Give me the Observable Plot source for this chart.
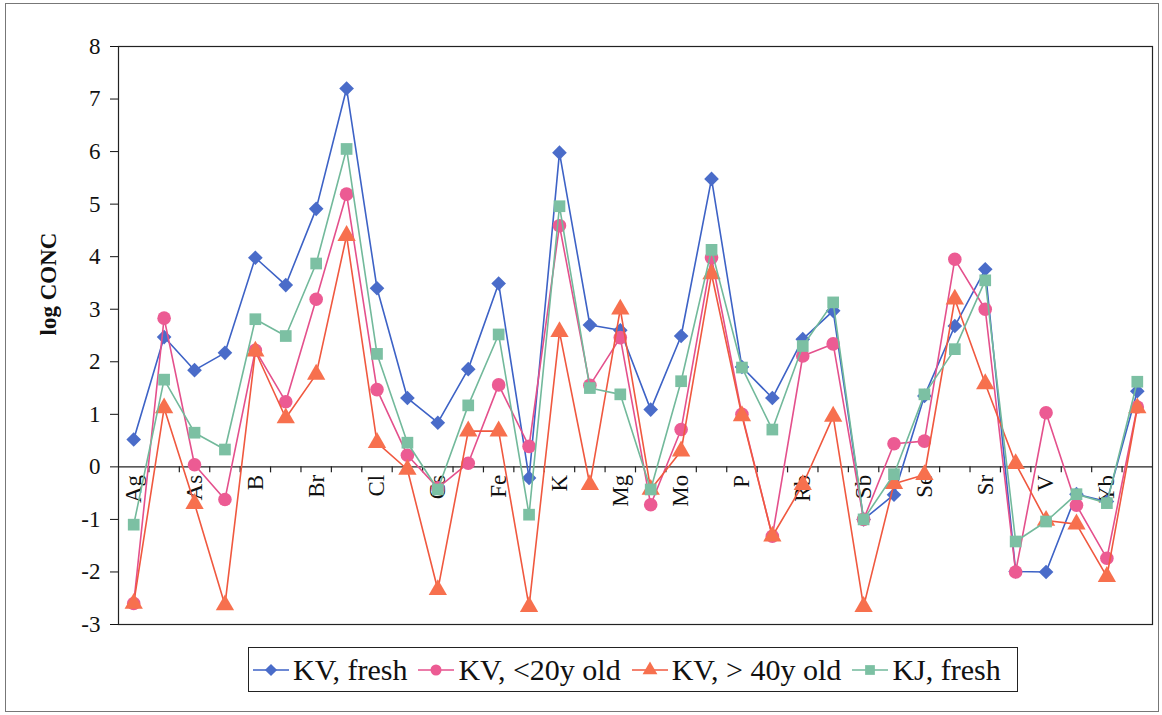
<!DOCTYPE html>
<html><head><meta charset="utf-8">
<script src="https://cdn.jsdelivr.net/npm/d3@7"></script>
<script src="https://cdn.jsdelivr.net/npm/@observablehq/plot@0.6"></script>
<style>
body{margin:0;background:#fff;font-family:"Liberation Serif","Times New Roman",serif;}
#wrap{position:relative;width:1162px;height:715px;overflow:hidden;background:#fff}
#border{position:absolute;left:5px;top:3px;width:1152px;height:707px;border:1px solid #777;pointer-events:none}
#chart{position:absolute;left:0;top:0}
#legend{position:absolute;left:248px;top:647px;width:770px;height:45px;border:1.5px solid #222;display:flex;align-items:center;box-sizing:border-box;padding-left:4px}
.item{display:flex;align-items:center;margin-right:11px;font-size:30px;color:#111;white-space:nowrap}
.item svg{margin-right:4px}
</style></head>
<body><div id="wrap"><div id="chart"></div><div id="legend"></div><div id="border"></div></div>
<script>
const categories = ["Ag","Al","As","Au","B","Ba","Br","Ca","Cl","Co","Cs","Cu","Fe","Hf","K","La","Mg","Mn","Mo","Na","P","Pb","Rb","S","Sb","Sc","Se","Sm","Sr","Th","V","W","Yb","Zn"];
const tickLabels = ["Ag","As","B","Br","Cl","Cs","Fe","K","Mg","Mo","P","Rb","Sb","Se","Sr","V","Yb"];
const seriesNames = ["KV, fresh","KV, <20y old","KV, > 40y old","KJ, fresh"];
const kvFresh = [0.52,2.47,1.84,2.17,3.98,3.46,4.91,7.2,3.4,1.31,0.84,1.86,3.49,-0.21,5.98,2.7,2.6,1.09,2.49,5.48,1.9,1.31,2.43,2.97,-1.0,-0.53,1.35,2.68,3.76,-1.99,-2.0,-0.52,-0.66,1.44];
const kvYoung = [-2.6,2.83,0.04,-0.62,2.22,1.24,3.19,5.19,1.47,0.22,-0.4,0.07,1.56,0.39,4.59,1.55,2.46,-0.72,0.71,3.98,1.0,-1.32,2.11,2.34,-1.0,0.44,0.49,3.95,3.0,-2.0,1.03,-0.73,-1.74,1.14];
const kvOld = [-2.6,1.12,-0.7,-2.63,2.2,0.93,1.76,4.4,0.46,-0.05,-2.34,0.68,0.68,-2.66,2.57,-0.34,3.0,-0.43,0.3,3.67,0.97,-1.32,-0.34,0.96,-2.66,-0.32,-0.15,3.19,1.58,0.06,-1.02,-1.09,-2.09,1.12];
const kjFresh = [-1.1,1.66,0.65,0.33,2.81,2.49,3.87,6.05,2.15,0.46,-0.43,1.17,2.52,-0.91,4.96,1.5,1.38,-0.43,1.63,4.13,1.89,0.71,2.3,3.13,-1.0,-0.14,1.38,2.24,3.55,-1.42,-1.04,-0.52,-0.69,1.62];
const yTicks = [-3,-2,-1,0,1,2,3,4,5,6,7,8];
const yLabel = "log CONC";

const seriesValues = [kvFresh, kvYoung, kvOld, kjFresh];
const strokes = ["#3d62c6","#e4508c","#f0583f","#72b99b"];
const fills = ["#4a6cc9","#ec5b93","#f7704e","#7cc0a3"];
const symbols = ["diamond2","circle","triangle","square"];
const radii = [6.6,6.8,6.8,6.6];

const W = 1162, H = 640, mL = 118, mR = 10, mT = 46, mB = 16;
const halfStep = (W - mL - mR) / categories.length / 2;
const unitPx = (H - mT - mB) / (yTicks[yTicks.length-1] - yTicks[0]);
const tickLen = 6 / unitPx;

const marks = [
  Plot.frame({stroke: "#222", strokeWidth: 1.2}),
  Plot.ruleY([0], {stroke: "#222", strokeWidth: 1.2}),
  Plot.ruleX(categories.slice(1), {x: d => d, y1: 0, y2: -tickLen, dx: -halfStep, stroke: "#222", strokeWidth: 1.2}),
  Plot.text(tickLabels, {x: d => d, y: 0, text: d => d, rotate: -90, textAnchor: "end", dy: 8, fontSize: 23, fill: "#111"}),
  Plot.text([yLabel], {text: d => d, frameAnchor: "left", dx: -70, rotate: -90, fontSize: 23, fontWeight: "bold", fill: "#111"})
];
seriesValues.forEach((vals, si) => {
  const rows = vals.map((v, i) => ({cat: categories[i], value: v, series: seriesNames[si]}));
  marks.push(Plot.line(rows, {x: "cat", y: "value", stroke: strokes[si], strokeWidth: 1.6}));
  marks.push(Plot.dot(rows, {x: "cat", y: "value", symbol: symbols[si], r: radii[si], fill: fills[si], stroke: "none"}));
});

const chart = Plot.plot({
  width: W, height: H,
  marginLeft: mL, marginRight: mR, marginTop: mT, marginBottom: mB,
  style: {fontFamily: "Liberation Serif, Times New Roman, serif", fontSize: "23px", color: "#111", background: "transparent"},
  x: {type: "point", domain: categories, padding: 0.5, round: false, axis: null},
  y: {domain: [yTicks[0], yTicks[yTicks.length-1]], ticks: yTicks, tickSize: 8, tickPadding: 10, tickFormat: d => String(d), label: null},
  marks
});
document.getElementById("chart").appendChild(chart);

const legend = document.getElementById("legend");
seriesNames.forEach((name, si) => {
  const item = document.createElement("div");
  item.className = "item";
  const svg = d3.create("svg").attr("width", 36).attr("height", 20);
  svg.append("line").attr("x1", 0).attr("x2", 36).attr("y1", 10).attr("y2", 10).attr("stroke", strokes[si]).attr("stroke-width", 1.6);
  const symMap = {diamond2: d3.symbolDiamond2, circle: d3.symbolCircle, triangle: d3.symbolTriangle, square: d3.symbolSquare};
  svg.append("path").attr("transform", "translate(18,10)").attr("d", d3.symbol(symMap[symbols[si]], 95)()).attr("fill", fills[si]);
  item.appendChild(svg.node());
  const span = document.createElement("span");
  span.textContent = name;
  item.appendChild(span);
  legend.appendChild(item);
});
</script>
</body></html>
